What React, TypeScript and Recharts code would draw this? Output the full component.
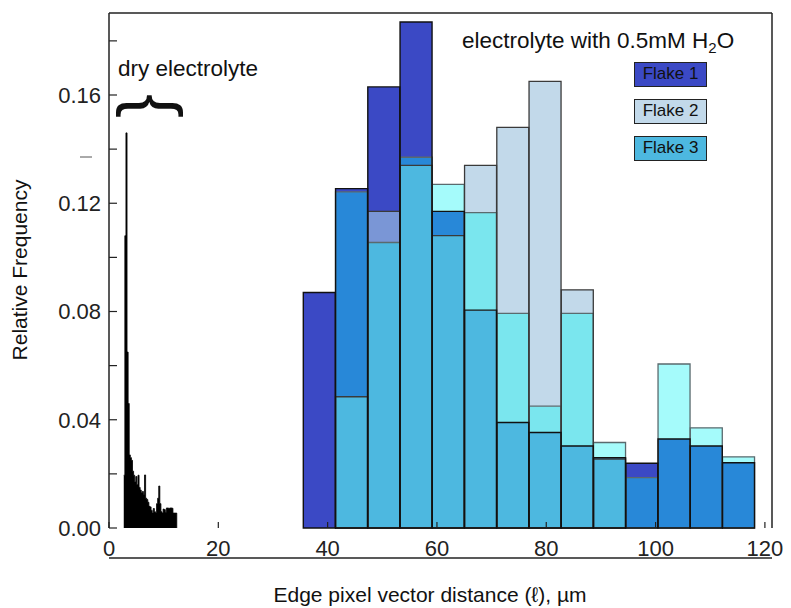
import React from 'react';
import { ComposedChart, Bar, Area, Cell, XAxis, YAxis, Legend } from 'recharts';

// histogram bin centres (µm) and relative frequencies per flake
const binCenters = [38.5, 44.4, 50.3, 56.2, 62.1, 68.0, 73.9, 79.8, 85.7, 91.6, 97.5, 103.4, 109.3, 115.2];
const flake1 = [0.087, 0.1254, 0.163, 0.187, 0.117, 0.0805, 0.039, 0.0353, 0.0303, 0.026, 0.0239, 0.0329, 0.0303, 0.0241];
const flake2 = [0, 0.0485, 0.117, 0.134, 0.108, 0.134, 0.148, 0.165, 0.088, 0.0255, 0, 0, 0, 0];
const flake3 = [0, 0.1242, 0.1055, 0.137, 0.127, 0.1165, 0.0793, 0.045, 0.0793, 0.0316, 0.0186, 0.0606, 0.037, 0.0263];

// dry electrolyte fine histogram
const dryX = [2.7, 2.9, 3.1, 3.3, 3.5, 3.7, 3.9, 4.1, 4.3, 4.5, 4.7, 4.9, 5.1, 5.3, 5.5, 5.7, 5.9, 6.1, 6.3, 6.5, 6.7, 6.9, 7.1, 7.3, 7.5, 7.7, 7.9, 8.1, 8.3, 8.5, 8.7, 8.9, 9.1, 9.3, 9.5, 9.7, 9.9, 10.1, 10.3, 10.5, 10.7, 10.9, 11.1, 11.3, 11.5, 11.7, 11.9, 12.1, 12.4];
const dryFreq = [0.0195, 0.108, 0.146, 0.065, 0.046, 0.027, 0.026, 0.025, 0.021, 0.0195, 0.017, 0.019, 0.016, 0.0195, 0.015, 0.014, 0.013, 0.0135, 0.0125, 0.0196, 0.011, 0.0105, 0.0095, 0.008, 0.0078, 0.0065, 0.0055, 0.0072, 0.006, 0.0055, 0.009, 0.011, 0.0155, 0.009, 0.006, 0.0055, 0.007, 0.0068, 0.0058, 0.0074, 0.0074, 0.0072, 0.0074, 0.0074, 0.0073, 0.0055, 0.0055, 0.0055, 0];

const xTicks = [0, 20, 40, 60, 80, 100, 120];
const yTicks = [0, 0.02, 0.04, 0.06, 0.08, 0.1, 0.12, 0.14, 0.16, 0.18];
const X_MAX = 121.3;
const Y_MAX = 0.1903;

const flakeNames = ['Flake 1', 'Flake 2', 'Flake 3'];
const legendColors = ['#3b49c5', '#c2d9ea', '#4db8e0'];
// colour of a region depending on which flakes overlap (bit 1 = flake 1, 2 = flake 2, 4 = flake 3)
const overlapColors: Record<number, string> = {
  1: '#3b49c5',
  2: '#c2d9ea',
  4: '#a5fbfb',
  3: '#7a96d6',
  5: '#2888d8',
  6: '#7ae6ee',
  7: '#4db8e0',
};

const rows = binCenters.map((x, i) => {
  const vals = [flake1[i], flake2[i], flake3[i]];
  const order = [0, 1, 2].sort((a, b) => vals[a] - vals[b]);
  const row: Record<string, number | string> = { x, f1: vals[0], f2: vals[1], f3: vals[2] };
  let prev = 0;
  order.forEach((idx, k) => {
    const mask = order.slice(k).reduce((m, j) => m | (1 << j), 0);
    row['s' + k] = vals[idx] - prev;
    row['c' + k] = overlapColors[mask];
    prev = vals[idx];
  });
  return row;
});

const dryRows = dryX.map((x, i) => ({ x, v: dryFreq[i] }));

const font = 'Liberation Sans, Arial, sans-serif';
const axisStroke = { stroke: '#222', strokeWidth: 1.5 };
const PLOT_BOTTOM = 528;

const FlakeLegend = () => (
  <div style={{ fontFamily: font }}>
    {flakeNames.map((name, i) => (
      <div
        key={name}
        style={{
          boxSizing: 'border-box',
          width: 73,
          height: 25,
          marginBottom: 12,
          background: legendColors[i],
          border: '1.5px solid #222',
          fontSize: 17,
          lineHeight: '22px',
          textAlign: 'center',
          color: '#111',
        }}
      >
        {name}
      </div>
    ))}
  </div>
);

// bottom tick: short inward mark plus label underneath
const XTick = (props: any) => {
  const { x, payload } = props;
  return (
    <g>
      <line x1={x} x2={x} y1={PLOT_BOTTOM} y2={PLOT_BOTTOM - 6} stroke="#222" strokeWidth={1.2} />
      <text x={x} y={556} textAnchor="middle" fontSize={22} fill="#222" fontFamily={font}>
        {payload.value}
      </text>
    </g>
  );
};

export default function App() {
  return (
    <div style={{ position: 'absolute', left: 0, top: 0, fontFamily: font }}>
      <ComposedChart
        width={791}
        height={608}
        data={rows}
        margin={{ top: 12, right: 18, bottom: 0, left: 0 }}
        barCategoryGap={0}
        barGap={0}
      >
        <XAxis
          xAxisId="main"
          dataKey="x"
          type="number"
          domain={[0, X_MAX]}
          ticks={xTicks}
          interval={0}
          height={80}
          axisLine={axisStroke}
          tickLine={false}
          tick={<XTick />}
        />
        <XAxis xAxisId="o1" dataKey="x" type="number" domain={[0, X_MAX]} hide />
        <XAxis xAxisId="o2" dataKey="x" type="number" domain={[0, X_MAX]} hide />
        <XAxis xAxisId="o3" dataKey="x" type="number" domain={[0, X_MAX]} hide />
        <XAxis xAxisId="dry" dataKey="x" type="number" domain={[0, X_MAX]} hide />
        <XAxis
          xAxisId="top"
          orientation="top"
          type="number"
          domain={[0, X_MAX]}
          height={1}
          tick={false}
          tickLine={false}
          axisLine={axisStroke}
        />
        <YAxis
          type="number"
          domain={[0, Y_MAX]}
          ticks={yTicks}
          interval={0}
          width={109}
          axisLine={axisStroke}
          tickLine={{ stroke: '#222', strokeWidth: 1.2 }}
          tickSize={-8}
          tickMargin={16}
          tickFormatter={(v: number) => (Math.round(v * 100) % 4 === 0 ? v.toFixed(2) : '')}
          tick={{ fontSize: 22, fill: '#222', fontFamily: font }}
        />
        <YAxis
          yAxisId="right"
          orientation="right"
          type="number"
          domain={[0, Y_MAX]}
          ticks={yTicks}
          interval={0}
          width={1}
          axisLine={axisStroke}
          tickLine={{ stroke: '#222', strokeWidth: 1.2 }}
          tickSize={-8}
          tickFormatter={() => ''}
        />

        <Area
          xAxisId="dry"
          data={dryRows}
          dataKey="v"
          type="stepAfter"
          stroke="#000"
          strokeWidth={0.8}
          fill="#000"
          fillOpacity={1}
          dot={false}
          activeDot={false}
          isAnimationActive={false}
        />

        {[0, 1, 2].map((k) => (
          <Bar key={'s' + k} xAxisId="main" dataKey={'s' + k} stackId="hist" isAnimationActive={false}>
            {rows.map((r, i) => (
              <Cell key={i} fill={r['c' + k] as string} />
            ))}
          </Bar>
        ))}

        <Bar xAxisId="o3" dataKey="f3" fill="none" stroke="#5a6a6e" strokeWidth={1.3} isAnimationActive={false} />
        <Bar xAxisId="o2" dataKey="f2" fill="none" stroke="#3a3a3a" strokeWidth={1.3} isAnimationActive={false} />
        <Bar xAxisId="o1" dataKey="f1" fill="none" stroke="#111" strokeWidth={1.4} isAnimationActive={false} />

        <Legend
          layout="vertical"
          align="center"
          verticalAlign="middle"
          wrapperStyle={{ top: 62, left: 634, width: 74 }}
          content={() => <FlakeLegend />}
        />

        <text x={118} y={76} fontSize={22.5} fill="#111" fontFamily={font}>
          dry electrolyte
        </text>
        <text
          transform="translate(143,106) rotate(-90)"
          textAnchor="middle"
          dominantBaseline="central"
          fontSize={72}
          fill="#111"
          fontFamily={font}
        >
          {'}'}
        </text>
        <text x={462} y={48} fontSize={22.5} fill="#111" fontFamily={font}>
          electrolyte with 0.5mM H
          <tspan fontSize={15} dy={5}>2</tspan>
          <tspan dy={-5}>O</tspan>
        </text>
        <line x1={80} x2={92} y1={157} y2={157} stroke="#555" strokeWidth={1} />
        <text
          transform="translate(19,270) rotate(-90)"
          textAnchor="middle"
          dominantBaseline="central"
          fontSize={21}
          fill="#111"
          fontFamily={font}
        >
          Relative Frequency
        </text>
        <text x={430} y={602} textAnchor="middle" fontSize={21} fill="#111" fontFamily={font}>
          Edge pixel vector distance (ℓ), µm
        </text>
      </ComposedChart>
    </div>
  );
}
